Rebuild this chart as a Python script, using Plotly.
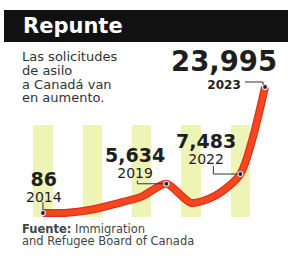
import plotly.graph_objects as go

# ---- data ----
years = [2014, 2015, 2016, 2017, 2018, 2019, 2020, 2021, 2022, 2023]
claims = [86, 150, 750, 1890, 3200, 5634, 2020, 3400, 7483, 23995]
label_years = [2014, 2019, 2022, 2023]
stripe_years = [2014, 2016, 2018, 2020, 2022]
stripe_top = [16800, 16800, 16800, 16800, 16800]
stripe_base = -600

title = "Repunte"
subtitle_lines = ["Las solicitudes", "de asilo", "a Canadá van", "en aumento."]
source_bold = "Fuente:"
source_lines = ["Immigration", "and Refugee Board of Canada"]

W, H = 288, 258
def px(x):
    return x / W
def py(y):
    return 1 - y / H

label_vals = [claims[years.index(y)] for y in label_years]
FONT = "DejaVu Sans"

fig = go.Figure()

# stripes
fig.add_trace(go.Bar(
    x=stripe_years, y=[t - stripe_base for t in stripe_top], base=stripe_base,
    width=0.78, marker=dict(color="#eef4b6", line=dict(width=0)),
    hoverinfo="skip", showlegend=False))

# main line
fig.add_trace(go.Scatter(
    x=years, y=claims, mode="lines",
    line=dict(color="#dc321b", width=8, shape="spline", smoothing=0.7),
    hoverinfo="skip", showlegend=False))
fig.add_trace(go.Scatter(
    x=years, y=claims, mode="lines",
    line=dict(color="#f5461f", width=5.5, shape="spline", smoothing=0.7),
    hoverinfo="skip", showlegend=False))

# markers
fig.add_trace(go.Scatter(
    x=label_years, y=label_vals, mode="markers",
    marker=dict(size=5, color="#1d2540", line=dict(color="#e8e8e8", width=1.2)),
    hoverinfo="skip", showlegend=False))

# label layout (pixel offsets from point)
offs = {
    2014: dict(shift=(1, 27), ns=19, ys=14, yb=False, base=12, lead="M0,3 L0,11"),
    2019: dict(shift=(-31, 21), ns=19, ys=14, yb=False, base=12, lead="M-29,3 L-29,0 L-3,0"),
    2022: dict(shift=(-34, 26), ns=19, ys=14, yb=False, base=12, lead="M-27,8 L-27,0 L-3,0"),
    2023: dict(shift=(-41, 18.5), ns=27.5, ys=12, yb=True, base=14, lead="M-20,5 L-2,5 L-2,2"),
}

annotations = []
shapes = []
for yr, v in zip(label_years, label_vals):
    o = offs[yr]
    ytxt = f"<b>{yr}</b>" if o["yb"] else str(yr)
    text = (f"<span style='font-size:{o['ns']}px'><b>{v:,}</b></span><br>"
            f"<span style='font-size:{o['ys']}px'>{ytxt}</span>")
    annotations.append(dict(
        x=yr, y=v, xref="x", yref="y", text=text, showarrow=False,
        xshift=o["shift"][0], yshift=o["shift"][1], xanchor="center", yanchor="middle",
        align="center", borderpad=0,
        font=dict(family=FONT, size=o["base"], color="#1e1e1e")))
    shapes.append(dict(
        type="path", xref="x", yref="y", xsizemode="pixel", ysizemode="pixel",
        xanchor=yr, yanchor=v, path=o["lead"], line=dict(color="#333333", width=1)))

# header
shapes.append(dict(type="rect", xref="paper", yref="paper",
                   x0=px(4), x1=1, y0=py(42), y1=py(10),
                   fillcolor="#111111", line=dict(width=0), layer="above"))
annotations.append(dict(x=px(21), y=py(26.5), xref="paper", yref="paper", text=f"<b>{title}</b>",
                        showarrow=False, xanchor="left", yanchor="middle",
                        font=dict(family=FONT, size=21, color="white")))

# subtitle (one block, line spacing set by base size)
sub_text = "<br>".join(f"<span style='font-size:13px'>{s}</span>" for s in subtitle_lines)
annotations.append(dict(x=px(21), y=py(76.5), xref="paper", yref="paper", text=sub_text,
                        showarrow=False, xanchor="left", yanchor="middle", align="left",
                        borderpad=0,
                        font=dict(family=FONT, size=10.6, color="#333333")))

# source block
src_text = (f"<span style='font-size:11.5px'><b>{source_bold}</b> {source_lines[0]}</span><br>"
            f"<span style='font-size:11.5px'>{source_lines[1]}</span>")
annotations.append(dict(x=px(21), y=py(235), xref="paper", yref="paper", text=src_text,
                        showarrow=False, xanchor="left", yanchor="middle", align="left",
                        borderpad=0,
                        font=dict(family=FONT, size=9.6, color="#444444")))

fig.update_layout(
    width=W, height=H, margin=dict(l=0, r=0, t=0, b=0),
    paper_bgcolor="white", plot_bgcolor="white",
    xaxis=dict(range=[2012.26, 2023.93], visible=False, fixedrange=True),
    yaxis=dict(range=[-8450, 40500], visible=False, fixedrange=True),
    annotations=annotations, shapes=shapes, bargap=0,
)

fig.write_html("out.html", config={"displayModeBar": False},
               post_script="document.body.style.margin='0';")
